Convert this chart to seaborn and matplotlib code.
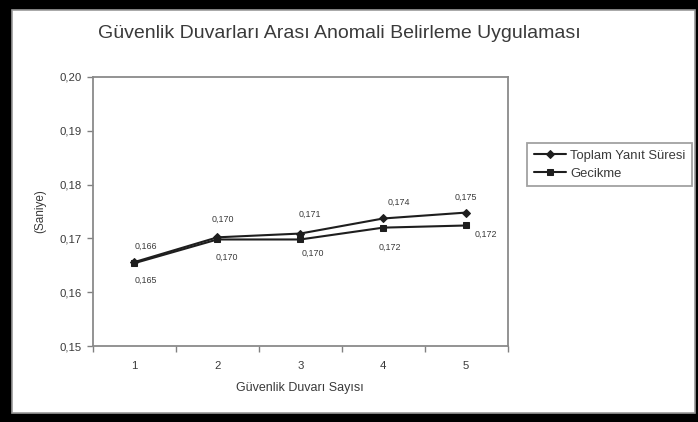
import matplotlib
matplotlib.use("Agg")
import matplotlib.pyplot as plt
from matplotlib.patches import Rectangle
import numpy as np
import pandas as pd
import seaborn as sns

# Number of firewalls and measured times (seconds)
firewall_counts = [1, 2, 3, 4, 5]
total_response = [0.1656, 0.1702, 0.1709, 0.1737, 0.1748]
latency = [0.1654, 0.1698, 0.1698, 0.1720, 0.1724]
series_names = ["Toplam Yanıt Süresi", "Gecikme"]
y_tick_values = [0.15, 0.16, 0.17, 0.18, 0.19, 0.20]

title_text = "Güvenlik Duvarları Arası Anomali Belirleme Uygulaması"
x_label_text = "Güvenlik Duvarı Sayısı"
y_label_text = "(Saniye)"

sns.set_style("white")
plt.rcParams["font.family"] = ["Liberation Sans", "DejaVu Sans"]

df = pd.DataFrame({
    "x": firewall_counts * 2,
    "y": total_response + latency,
    "series": [series_names[0]] * len(firewall_counts) + [series_names[1]] * len(firewall_counts),
})

W, H = 698, 422
fig = plt.figure(figsize=(W / 100, H / 100), dpi=100)
fig.patch.set_facecolor("black")

# white chart sheet inside the black frame
fig.patches.append(Rectangle((12 / W, 9 / H), (695 - 12) / W, (412 - 9) / H,
                             transform=fig.transFigure, facecolor="white",
                             edgecolor="#9a9a9a", linewidth=1.2, zorder=-5))

ax = fig.add_axes([93 / W, 1 - 346 / H, (507.5 - 93) / W, (346 - 77) / H])
ax.set_zorder(2)
ax.set_facecolor("white")

sns.lineplot(data=df, x="x", y="y", hue="series", style="series",
             palette=["#1e1e1e", "#1e1e1e"], markers=["D", "s"], dashes=False,
             markersize=4.5, linewidth=1.5, markeredgecolor="#1e1e1e",
             legend=False, ax=ax)
# slightly smaller diamond marker for the first series
lines = ax.get_lines()
lines[0].set_markersize(3.6)
lines[1].set_markersize(5)

ax.set_xlim(0.5, 5.5)
ax.set_ylim(0.15, 0.20)
ax.set_yticks(y_tick_values)
ax.set_yticklabels([f"{v:.2f}".replace(".", ",") for v in y_tick_values])
ax.set_xticks(firewall_counts)
ax.set_xticklabels([str(v) for v in firewall_counts])
ax.set_xticks(np.arange(0.5, 6.0, 1.0), minor=True)
ax.tick_params(axis="x", which="major", length=0, pad=11, labelsize=8.2, colors="#3a3a3a")
ax.tick_params(axis="x", which="minor", length=4, width=1, color="#808080", direction="out")
ax.tick_params(axis="y", length=4, width=1, color="#808080", direction="out",
               labelsize=8.2, labelcolor="#3a3a3a", pad=4)
ax.tick_params(bottom=True, left=True, which="both")
for sp in ax.spines.values():
    sp.set_color("#8a8a8a")
    sp.set_linewidth(1.3)

ax.set_xlabel(x_label_text, fontsize=9, color="#3a3a3a", labelpad=8)
ax.set_ylabel(y_label_text, fontsize=8.5, color="#3a3a3a", labelpad=10)

fig.text(339 / W, 1 - 33 / H, title_text, ha="center", va="center",
         fontsize=14, color="#3a3a3a")

# value labels next to each point
top_offsets = [(8, 11), (4, 13), (7, 14), (11, 12), (0, 11)]
bottom_offsets = [(8, -12), (7, -13), (9, -10), (5, -14), (14, -6)]
for x, v, off in zip(firewall_counts, total_response, top_offsets):
    ax.annotate(f"{v:.3f}".replace(".", ","), (x, v), xytext=off,
                textcoords="offset points", ha="center", va="center",
                fontsize=6.4, color="#3a3a3a")
for x, v, off in zip(firewall_counts, latency, bottom_offsets):
    ax.annotate(f"{v:.3f}".replace(".", ","), (x, v), xytext=off,
                textcoords="offset points", ha="center", va="center",
                fontsize=6.4, color="#3a3a3a")

leg = fig.legend(handles=lines, labels=series_names, loc="upper left",
                 bbox_to_anchor=(527 / W, 1 - 143 / H), fontsize=9.4,
                 frameon=True, fancybox=False, edgecolor="#8a8a8a",
                 handlelength=2.5, handletextpad=0.3, borderpad=0.5,
                 labelspacing=0.45, borderaxespad=0, labelcolor="#3a3a3a")
leg.get_frame().set_linewidth(1.3)

fig.savefig("out.png", dpi=100, facecolor=fig.get_facecolor())
